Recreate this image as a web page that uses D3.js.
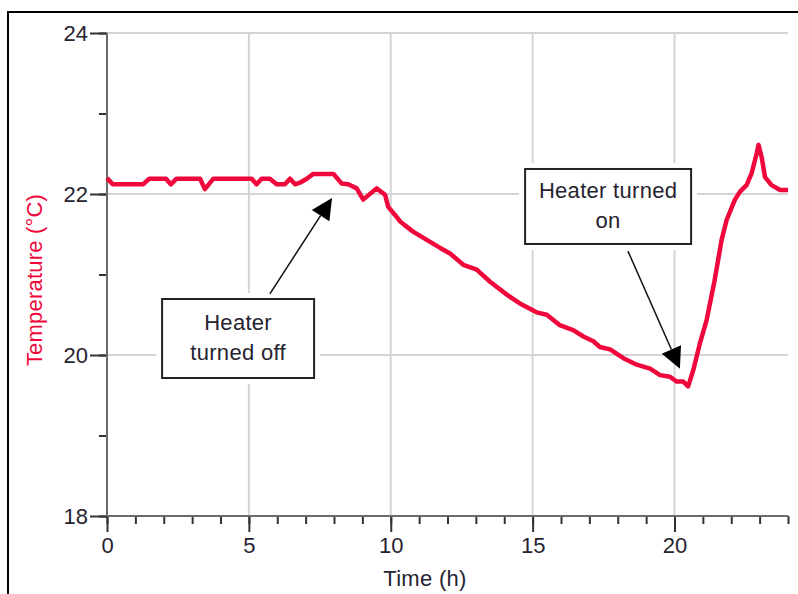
<!DOCTYPE html>
<html>
<head>
<meta charset="utf-8">
<script src="https://cdn.jsdelivr.net/npm/d3@7"></script>
<style>
  html, body { margin: 0; padding: 0; background: #fff; }
  svg text { font-family: "Liberation Sans", Arial, sans-serif; }
</style>
</head>
<body>
<svg id="chart" width="798" height="594"></svg>
<script>
// Room temperature log over one day (hours vs °C)
const timeHours = [
  0, 0.2, 1.27, 1.49, 2.08, 2.25, 2.45, 3.28, 3.45, 3.75, 5.1, 5.27, 5.45, 5.74, 5.98,
  6.27, 6.45, 6.63, 6.8, 7.04, 7.27, 7.98, 8.27, 8.5, 8.8, 9.03, 9.5, 9.8, 9.91, 10.15,
  10.33, 10.5, 10.8, 11.27, 11.74, 12.09, 12.56, 13.03, 13.5, 14.09, 14.55, 15.14, 15.5,
  15.96, 16.43, 16.79, 17.14, 17.37, 17.73, 18.2, 18.67, 19.14, 19.49, 19.84, 20.08,
  20.31, 20.48, 20.66, 20.9, 21.13, 21.4, 21.66, 21.84, 22.13, 22.31, 22.54, 22.72,
  22.9, 22.96, 23.07, 23.19, 23.42, 23.72, 24
];
const temperatureC = [
  22.2, 22.12, 22.12, 22.19, 22.19, 22.12, 22.19, 22.19, 22.06, 22.19, 22.19, 22.12, 22.19, 22.19, 22.12,
  22.12, 22.19, 22.12, 22.14, 22.19, 22.25, 22.25, 22.13, 22.12, 22.07, 21.93, 22.07, 21.99, 21.84, 21.74,
  21.66, 21.61, 21.53, 21.43, 21.33, 21.26, 21.12, 21.06, 20.91, 20.75, 20.64, 20.53, 20.5,
  20.37, 20.31, 20.23, 20.17, 20.1, 20.07, 19.96, 19.88, 19.83, 19.75, 19.73, 19.67,
  19.67, 19.61, 19.81, 20.15, 20.43, 20.9, 21.43, 21.68, 21.93, 22.03, 22.11, 22.26,
  22.51, 22.61, 22.46, 22.21, 22.11, 22.05, 22.05
];
const xTickLabels = [0, 5, 10, 15, 20];
const yTickLabels = [18, 20, 22, 24];

// Callout boxes: centre in data units, arrow from the box to a point on the curve
const noteLines = [["Heater", "turned off"], ["Heater turned", "on"]];
const noteCentre = [[4.62, 20.205], [17.66, 21.845]];
const arrowFrom = [[5.74, 20.76], [18.36, 21.29]];
const arrowTo = [[7.93, 21.95], [20.19, 19.83]];

const svg = d3.select("#chart");
const W = 798, H = 594;
const plot = { left: 107, right: 788, top: 33, bottom: 516 };

const x = d3.scaleLinear().domain([0, 24]).range([plot.left, plot.right]);
const y = d3.scaleLinear().domain([18, 24]).range([plot.bottom, plot.top]);

const lineRed = "#f0073c";
const textDark = "#262330";
const fontSize = "22px";

// outer frame (left and top edges)
svg.append("path")
  .attr("d", `M8,${H} L8,12 L${W},12`)
  .attr("fill", "none").attr("stroke", "#000").attr("stroke-width", 2);

// grid
const grid = svg.append("g").attr("stroke", "#d4d4d4").attr("stroke-width", 2);
grid.selectAll("line.v").data(xTickLabels.filter(d => d > 0)).join("line")
  .attr("x1", d => x(d)).attr("x2", d => x(d))
  .attr("y1", plot.top).attr("y2", plot.bottom);
grid.selectAll("line.h").data(yTickLabels.filter(d => d > 18)).join("line")
  .attr("x1", plot.left).attr("x2", plot.right)
  .attr("y1", d => y(d)).attr("y2", d => y(d));

// axes
const fmt = d3.format("d");
const xAxisMinor = d3.axisBottom(x).tickValues(d3.range(0, 25, 1)).tickSize(8).tickFormat("");
const xAxisMajor = d3.axisBottom(x).tickValues(xTickLabels).tickSize(16).tickPadding(6).tickFormat(fmt);
const yAxisMinor = d3.axisLeft(y).tickValues(d3.range(18, 24.01, 1)).tickSize(8).tickFormat("");
const yAxisMajor = d3.axisLeft(y).tickValues(yTickLabels).tickSize(17).tickPadding(2).tickFormat(fmt);

function styleAxis(g) {
  g.select(".domain").remove();
  g.selectAll(".tick line").attr("stroke", "#333").attr("stroke-width", 2);
  g.selectAll(".tick text")
    .attr("fill", textDark)
    .style("font-size", fontSize)
    .style("font-family", "'Liberation Sans', Arial, sans-serif");
}

svg.append("g").attr("transform", `translate(0,${plot.bottom})`).call(xAxisMinor).call(styleAxis);
svg.append("g").attr("transform", `translate(0,${plot.bottom})`).call(xAxisMajor).call(styleAxis)
  .selectAll(".tick text").attr("dy", "0.7em");
svg.append("g").attr("transform", `translate(${plot.left},0)`).call(yAxisMinor).call(styleAxis);
svg.append("g").attr("transform", `translate(${plot.left},0)`).call(yAxisMajor).call(styleAxis)
  .selectAll(".tick text").attr("dy", "0.35em");

// axis lines
svg.append("line")
  .attr("x1", plot.left).attr("x2", plot.left).attr("y1", plot.top).attr("y2", plot.bottom)
  .attr("stroke", "#6a6a6a").attr("stroke-width", 2);
svg.append("line")
  .attr("x1", plot.left).attr("x2", plot.right).attr("y1", plot.bottom).attr("y2", plot.bottom)
  .attr("stroke", "#6a6a6a").attr("stroke-width", 2);

// axis titles
svg.append("text")
  .attr("x", 425).attr("y", 586)
  .attr("text-anchor", "middle")
  .attr("fill", textDark)
  .style("font-size", fontSize)
  .style("letter-spacing", "0.3px")
  .text("Time (h)");
svg.append("text")
  .attr("transform", "translate(42,280) rotate(-90)")
  .attr("text-anchor", "middle")
  .attr("fill", lineRed)
  .style("font-size", fontSize)
  .style("letter-spacing", "0.2px")
  .text("Temperature (°C)");

// temperature curve
const series = timeHours.map((t, i) => [t, temperatureC[i]]);
svg.append("path")
  .datum(series)
  .attr("fill", "none")
  .attr("stroke", lineRed)
  .attr("stroke-width", 4.5)
  .attr("stroke-linejoin", "round")
  .attr("d", d3.line().x(d => x(d[0])).y(d => y(d[1])));

// callouts
const boxW = [152, 166], boxH = [79, 75], pad = 6;
noteLines.forEach((lines, i) => {
  const cx = x(noteCentre[i][0]), cy = y(noteCentre[i][1]);
  const g = svg.append("g");
  g.append("rect")
    .attr("x", cx - boxW[i] / 2 - pad).attr("y", cy - boxH[i] / 2 - pad)
    .attr("width", boxW[i] + 2 * pad).attr("height", boxH[i] + 2 * pad)
    .attr("fill", "#fff");
  g.append("rect")
    .attr("x", cx - boxW[i] / 2).attr("y", cy - boxH[i] / 2)
    .attr("width", boxW[i]).attr("height", boxH[i])
    .attr("fill", "#fff").attr("stroke", "#222").attr("stroke-width", 2);
  g.selectAll("text").data(lines).join("text")
    .attr("x", cx)
    .attr("y", (d, j) => cy - 8 + j * 30)
    .attr("text-anchor", "middle")
    .attr("fill", textDark)
    .style("font-size", fontSize)
    .style("letter-spacing", "0.3px")
    .text(d => d);

  // arrow
  const x0 = x(arrowFrom[i][0]), y0 = y(arrowFrom[i][1]);
  const x1 = x(arrowTo[i][0]), y1 = y(arrowTo[i][1]);
  const dx = x1 - x0, dy = y1 - y0, len = Math.hypot(dx, dy);
  const ux = dx / len, uy = dy / len, px = -uy, py = ux;
  const headL = 21, headW = 10.5;
  const bx = x1 - ux * headL, by = y1 - uy * headL;
  svg.append("line")
    .attr("x1", x0).attr("y1", y0).attr("x2", bx).attr("y2", by)
    .attr("stroke", "#111").attr("stroke-width", 1.5);
  svg.append("path")
    .attr("d", `M${x1},${y1} L${bx + px * headW},${by + py * headW} L${bx - px * headW},${by - py * headW} Z`)
    .attr("fill", "#000");
});
</script>
</body>
</html>
